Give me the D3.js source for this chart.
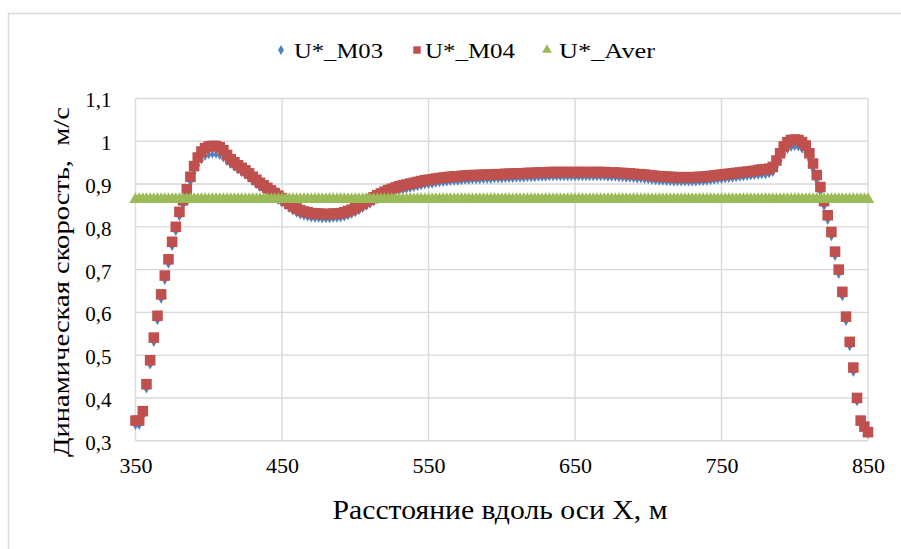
<!DOCTYPE html>
<html><head><meta charset="utf-8">
<script src="https://cdn.jsdelivr.net/npm/d3@7/dist/d3.min.js"></script>
<style>
html,body{margin:0;padding:0;background:#fff;}
svg text{fill:#000;}
</style></head>
<body><svg id="chart" width="901" height="549"></svg>
<script>
// Distance along X (m)
const xValues = [
350,352.5,355,357.5,360,362.5,365,367.5,370,372.5,
375,377.5,380,382.5,385,387.5,390,392.5,395,397.5,
400,402.5,405,407.5,410,412.5,415,417.5,420,422.5,
425,427.5,430,432.5,435,437.5,440,442.5,445,447.5,
450,452.5,455,457.5,460,462.5,465,467.5,470,472.5,
475,477.5,480,482.5,485,487.5,490,492.5,495,497.5,
500,502.5,505,507.5,510,512.5,515,517.5,520,522.5,
525,527.5,530,532.5,535,537.5,540,542.5,545,547.5,
550,552.5,555,557.5,560,562.5,565,567.5,570,572.5,
575,577.5,580,582.5,585,587.5,590,592.5,595,597.5,
600,602.5,605,607.5,610,612.5,615,617.5,620,622.5,
625,627.5,630,632.5,635,637.5,640,642.5,645,647.5,
650,652.5,655,657.5,660,662.5,665,667.5,670,672.5,
675,677.5,680,682.5,685,687.5,690,692.5,695,697.5,
700,702.5,705,707.5,710,712.5,715,717.5,720,722.5,
725,727.5,730,732.5,735,737.5,740,742.5,745,747.5,
750,752.5,755,757.5,760,762.5,765,767.5,770,772.5,
775,777.5,780,782.5,785,787.5,790,792.5,795,797.5,
800,802.5,805,807.5,810,812.5,815,817.5,820,822.5,
825,827.5,830,832.5,835,837.5,840,842.5,845,847.5,
850];

const uM03 = [
0.335,0.335,0.357,0.420,0.476,0.529,0.580,0.630,0.674,0.712,
0.753,0.788,0.823,0.850,0.876,0.904,0.926,0.944,0.956,0.964,
0.968,0.969,0.969,0.966,0.960,0.952,0.945,0.939,0.932,0.926,
0.920,0.913,0.905,0.898,0.891,0.885,0.879,0.873,0.867,0.861,
0.855,0.849,0.842,0.836,0.831,0.827,0.824,0.822,0.820,0.819,
0.819,0.818,0.818,0.818,0.819,0.819,0.820,0.822,0.825,0.828,
0.832,0.837,0.842,0.847,0.852,0.857,0.862,0.866,0.870,0.874,
0.877,0.880,0.883,0.885,0.887,0.889,0.891,0.893,0.895,0.897,
0.898,0.899,0.901,0.902,0.903,0.904,0.905,0.906,0.906,0.907,
0.908,0.908,0.909,0.909,0.909,0.910,0.910,0.910,0.911,0.911,
0.911,0.912,0.912,0.912,0.913,0.913,0.913,0.914,0.914,0.914,
0.915,0.915,0.915,0.916,0.916,0.916,0.916,0.916,0.916,0.916,
0.916,0.916,0.916,0.916,0.916,0.916,0.916,0.916,0.916,0.915,
0.915,0.915,0.914,0.914,0.913,0.913,0.912,0.911,0.911,0.910,
0.909,0.908,0.907,0.906,0.906,0.905,0.905,0.904,0.904,0.904,
0.904,0.904,0.904,0.904,0.905,0.905,0.906,0.907,0.908,0.909,
0.910,0.911,0.912,0.913,0.914,0.915,0.916,0.917,0.918,0.919,
0.920,0.921,0.921,0.923,0.926,0.939,0.955,0.970,0.980,0.985,
0.987,0.986,0.981,0.974,0.957,0.934,0.907,0.880,0.847,0.814,
0.776,0.730,0.688,0.636,0.578,0.519,0.459,0.390,0.339,0.326,
0.314];

const uM04 = [
0.347,0.347,0.369,0.432,0.488,0.541,0.592,0.642,0.686,0.724,
0.765,0.800,0.835,0.862,0.888,0.917,0.942,0.962,0.976,0.984,
0.988,0.989,0.989,0.986,0.979,0.968,0.958,0.951,0.944,0.938,
0.932,0.925,0.917,0.910,0.903,0.897,0.891,0.885,0.879,0.873,
0.867,0.861,0.854,0.848,0.843,0.839,0.836,0.834,0.832,0.831,
0.831,0.830,0.830,0.830,0.831,0.831,0.832,0.834,0.837,0.840,
0.844,0.849,0.854,0.859,0.864,0.869,0.874,0.878,0.882,0.886,
0.889,0.892,0.895,0.897,0.899,0.901,0.903,0.905,0.907,0.909,
0.910,0.911,0.913,0.914,0.915,0.916,0.917,0.918,0.918,0.919,
0.920,0.920,0.921,0.921,0.921,0.922,0.922,0.922,0.923,0.923,
0.923,0.924,0.924,0.924,0.925,0.925,0.925,0.926,0.926,0.926,
0.927,0.927,0.927,0.928,0.928,0.928,0.928,0.928,0.928,0.928,
0.928,0.928,0.928,0.928,0.928,0.928,0.928,0.928,0.928,0.927,
0.927,0.927,0.926,0.926,0.925,0.925,0.924,0.923,0.923,0.922,
0.921,0.920,0.919,0.918,0.918,0.917,0.917,0.916,0.916,0.916,
0.916,0.916,0.916,0.916,0.917,0.917,0.918,0.919,0.920,0.921,
0.922,0.923,0.924,0.925,0.926,0.927,0.928,0.929,0.930,0.931,
0.933,0.934,0.934,0.936,0.940,0.955,0.972,0.988,0.998,1.003,
1.004,1.003,0.998,0.990,0.972,0.948,0.921,0.893,0.860,0.827,
0.788,0.742,0.700,0.648,0.590,0.531,0.471,0.400,0.347,0.333,
0.320];

const uAver = [
0.864,0.864,0.864,0.864,0.864,0.864,0.864,0.864,0.864,0.864,
0.864,0.864,0.864,0.864,0.864,0.864,0.864,0.864,0.864,0.864,
0.864,0.864,0.864,0.864,0.864,0.864,0.864,0.864,0.864,0.864,
0.864,0.864,0.864,0.864,0.864,0.864,0.864,0.864,0.864,0.864,
0.864,0.864,0.864,0.864,0.864,0.864,0.864,0.864,0.864,0.864,
0.864,0.864,0.864,0.864,0.864,0.864,0.864,0.864,0.864,0.864,
0.864,0.864,0.864,0.864,0.864,0.864,0.864,0.864,0.864,0.864,
0.864,0.864,0.864,0.864,0.864,0.864,0.864,0.864,0.864,0.864,
0.864,0.864,0.864,0.864,0.864,0.864,0.864,0.864,0.864,0.864,
0.864,0.864,0.864,0.864,0.864,0.864,0.864,0.864,0.864,0.864,
0.864,0.864,0.864,0.864,0.864,0.864,0.864,0.864,0.864,0.864,
0.864,0.864,0.864,0.864,0.864,0.864,0.864,0.864,0.864,0.864,
0.864,0.864,0.864,0.864,0.864,0.864,0.864,0.864,0.864,0.864,
0.864,0.864,0.864,0.864,0.864,0.864,0.864,0.864,0.864,0.864,
0.864,0.864,0.864,0.864,0.864,0.864,0.864,0.864,0.864,0.864,
0.864,0.864,0.864,0.864,0.864,0.864,0.864,0.864,0.864,0.864,
0.864,0.864,0.864,0.864,0.864,0.864,0.864,0.864,0.864,0.864,
0.864,0.864,0.864,0.864,0.864,0.864,0.864,0.864,0.864,0.864,
0.864,0.864,0.864,0.864,0.864,0.864,0.864,0.864,0.864,0.864,
0.864,0.864,0.864,0.864,0.864,0.864,0.864,0.864,0.864,0.864,
0.864];

const xTicks = [350, 450, 550, 650, 750, 850];
const yTicks = [0.3, 0.4, 0.5, 0.6, 0.7, 0.8, 0.9, 1.0, 1.1];
const seriesNames = ["U*_M03", "U*_M04", "U*_Aver"];
const xTitle = "Расстояние вдоль оси X, м";
const yTitle = "Динамическая скорость,  м/с";

const colors = {"U*_M03": "#4F81BD", "U*_M04": "#C0504D", "U*_Aver": "#9BBB59"};
const seriesData = {"U*_M03": uM03, "U*_M04": uM04, "U*_Aver": uAver};
const FONT = "Tinos, 'Times New Roman', 'Liberation Serif', 'DejaVu Serif', 'Noto Serif', serif";

const svg = d3.select("#chart");
svg.append("rect").attr("width", 901).attr("height", 549).attr("fill", "#fff");

// outer chart border (extends beyond the captured frame on right/bottom)
svg.append("rect").attr("x", 8.5).attr("y", 13.5).attr("width", 1000).attr("height", 1000)
  .attr("fill", "none").attr("stroke", "#d9d9d9").attr("stroke-width", 1.5);

const plot = {left: 135.5, right: 868, top: 98.5, bottom: 440.7};
const x = d3.scaleLinear().domain([350, 850]).range([plot.left, plot.right]);
const y = d3.scaleLinear().domain([0.3, 1.1]).range([plot.bottom, plot.top]);

const fmt = v => d3.format(".1~f")(v).replace(".", ",");

// gridlines
const grid = svg.append("g");
grid.selectAll("line.h").data(yTicks).join("line")
  .attr("x1", plot.left).attr("x2", plot.right)
  .attr("y1", d => y(d)).attr("y2", d => y(d))
  .attr("stroke", "#d9d9d9").attr("stroke-width", 1.4);
grid.selectAll("line.v").data(xTicks).join("line")
  .attr("x1", d => x(d)).attr("x2", d => x(d))
  .attr("y1", plot.top).attr("y2", plot.bottom)
  .attr("stroke", "#d9d9d9").attr("stroke-width", 1.4);

// axes (labels only, via d3 axes)
const yAxis = svg.append("g").attr("transform", `translate(${plot.left},0)`)
  .call(d3.axisLeft(y).tickValues(yTicks).tickFormat(fmt).tickSize(0).tickPadding(24));
yAxis.attr("font-family", FONT);
yAxis.select(".domain").remove();
yAxis.selectAll("text").attr("font-size", 21).attr("dy", "0.4em");

const xAxis = svg.append("g").attr("transform", `translate(0,${plot.bottom})`)
  .call(d3.axisBottom(x).tickValues(xTicks).tickFormat(d3.format("d")).tickSize(0).tickPadding(17));
xAxis.attr("font-family", FONT);
xAxis.select(".domain").remove();
xAxis.selectAll("text").attr("font-size", 22);

// markers
const sym = {
  "U*_M03": d3.symbol().type(d3.symbolDiamond).size(20),
  "U*_M04": d3.symbol().type(d3.symbolSquare).size(112),
  "U*_Aver": d3.symbol().type(d3.symbolTriangle).size(68)
};
seriesNames.forEach(name => {
  const vals = seriesData[name];
  svg.append("g").selectAll("path").data(xValues).join("path")
    .attr("d", sym[name]())
    .attr("transform", (d, i) => `translate(${x(d)},${y(vals[i])})`)
    .attr("fill", colors[name]);
});

// titles
svg.append("text").attr("x", 500).attr("y", 519).attr("text-anchor", "middle")
  .attr("font-family", FONT).attr("font-size", 27)
  .attr("textLength", 335).attr("lengthAdjust", "spacingAndGlyphs").text(xTitle);
svg.append("text").attr("transform", "translate(69,282) rotate(-90)")
  .attr("text-anchor", "middle").attr("font-size", 24).attr("font-family", FONT)
  .attr("textLength", 350).attr("lengthAdjust", "spacingAndGlyphs")
  .style("white-space", "pre").text(yTitle);

// legend
const legendItems = [
  {name: "U*_M03", mx: 281, tx: 294, w: 89},
  {name: "U*_M04", mx: 417, tx: 425, w: 90},
  {name: "U*_Aver", mx: 547, tx: 559, w: 96}
];
const lsym = {
  "U*_M03": d3.symbol().type(d3.symbolDiamond).size(30),
  "U*_M04": d3.symbol().type(d3.symbolSquare).size(55),
  "U*_Aver": d3.symbol().type(d3.symbolTriangle).size(42)
};
const lg = svg.append("g").attr("font-family", FONT);
legendItems.forEach(it => {
  lg.append("path").attr("d", lsym[it.name]()).attr("transform", `translate(${it.mx},50)`)
    .attr("fill", colors[it.name]);
  lg.append("text").attr("x", it.tx).attr("y", 50).attr("dy", "0.36em")
    .attr("font-size", 22).attr("textLength", it.w).attr("lengthAdjust", "spacingAndGlyphs")
    .text(it.name);
});
</script></body></html>
